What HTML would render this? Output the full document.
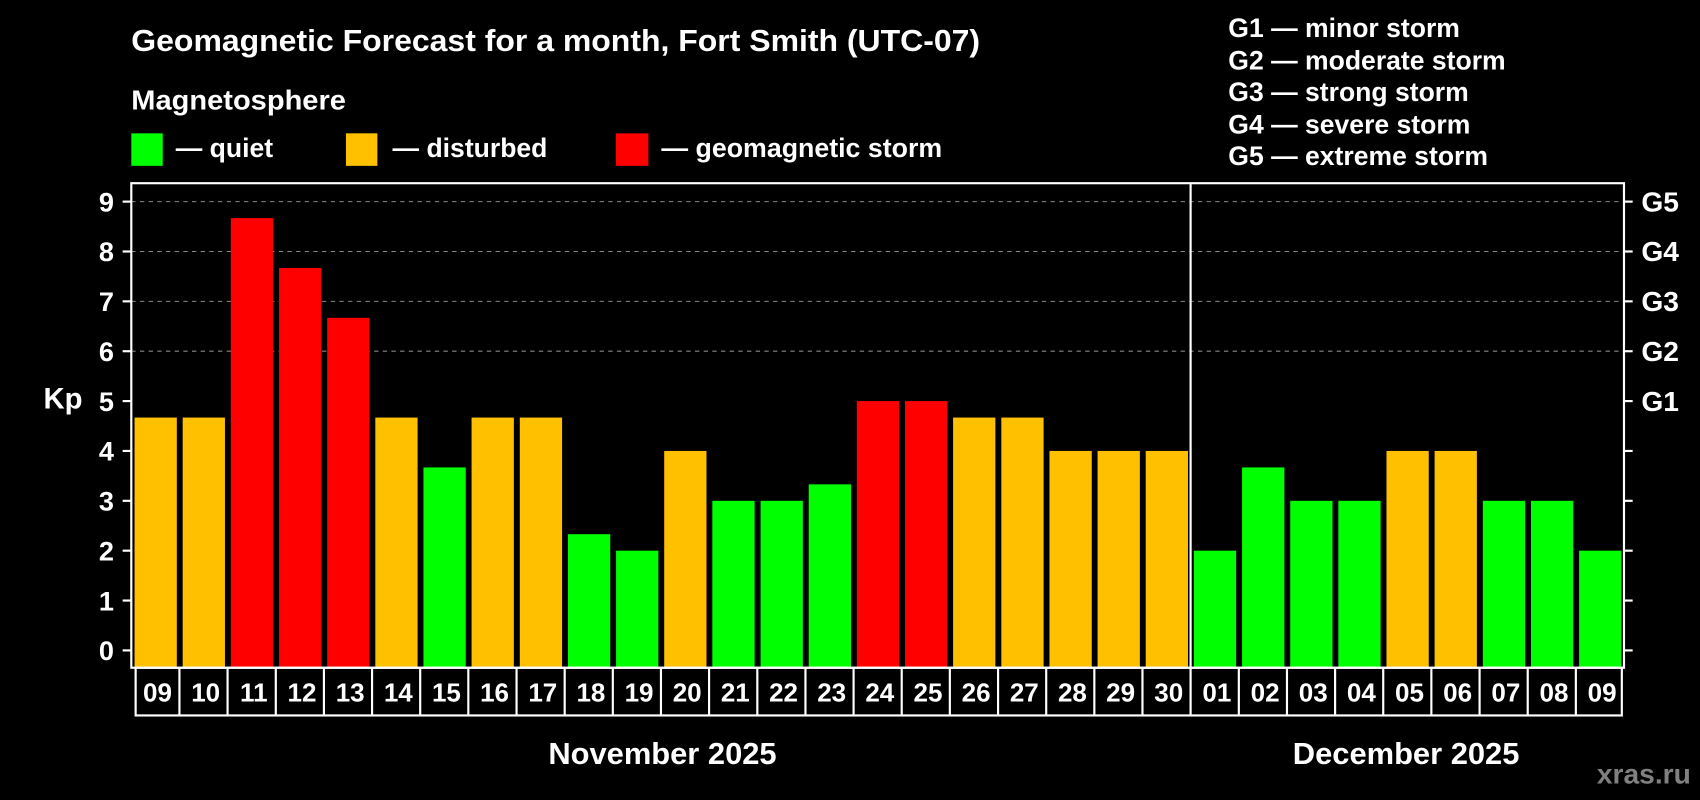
<!DOCTYPE html>
<html><head><meta charset="utf-8"><style>html,body{margin:0;padding:0;background:#000}svg{display:block}text{font-family:"Liberation Sans",Arial,sans-serif;font-weight:bold;fill:#fff}</style></head>
<body>
<svg width="1700" height="800" viewBox="0 0 1568 738" xmlns="http://www.w3.org/2000/svg">
<rect width="1568" height="738" fill="#000"/>
<text x="121" y="47" font-size="28.5" textLength="783" lengthAdjust="spacingAndGlyphs">Geomagnetic Forecast for a month, Fort Smith (UTC-07)</text>
<text x="121" y="101" font-size="26" textLength="198" lengthAdjust="spacingAndGlyphs">Magnetosphere</text>
<rect x="121" y="123" width="29" height="30" fill="#00ff00"/><text x="162" y="145" font-size="24.5">— quiet</text>
<rect x="319" y="123" width="29" height="30" fill="#ffc000"/><text x="362" y="145" font-size="24.5">— disturbed</text>
<rect x="568" y="123" width="30" height="30" fill="#ff0000"/><text x="610" y="145" font-size="24.5" textLength="259" lengthAdjust="spacingAndGlyphs">— geomagnetic storm</text>
<g font-size="24.5"><text x="1133" y="34">G1 — minor storm</text><text x="1133" y="64">G2 — moderate storm</text><text x="1133" y="93">G3 — strong storm</text><text x="1133" y="123">G4 — severe storm</text><text x="1133" y="152">G5 — extreme storm</text></g>
<g stroke="#888" stroke-dasharray="4,4" stroke-width="1"><line x1="121" x2="1498" y1="186" y2="186"/><line x1="121" x2="1498" y1="232" y2="232"/><line x1="121" x2="1498" y1="278" y2="278"/><line x1="121" x2="1498" y1="324" y2="324"/></g>
<g fill="#ffc000"><rect x="124" y="385.2" width="39" height="230.8"/><rect x="168.4" y="385.2" width="39" height="230.8"/><rect x="346.1" y="385.2" width="39" height="230.8"/><rect x="434.9" y="385.2" width="39" height="230.8"/><rect x="479.4" y="385.2" width="39" height="230.8"/><rect x="612.6" y="416" width="39" height="200"/><rect x="879.1" y="385.2" width="39" height="230.8"/><rect x="923.6" y="385.2" width="39" height="230.8"/><rect x="968" y="416" width="39" height="200"/><rect x="1012.4" y="416" width="39" height="200"/><rect x="1056.8" y="416" width="39" height="200"/><rect x="1278.9" y="416" width="39" height="200"/><rect x="1323.3" y="416" width="39" height="200"/></g>
<g fill="#ff0000"><rect x="212.8" y="201.2" width="39" height="414.8"/><rect x="257.3" y="247.2" width="39" height="368.8"/><rect x="301.7" y="293.2" width="39" height="322.8"/><rect x="790.3" y="370" width="39" height="246"/><rect x="834.7" y="370" width="39" height="246"/></g>
<g fill="#00ff00"><rect x="390.5" y="431.2" width="39" height="184.8"/><rect x="523.8" y="492.8" width="39" height="123.2"/><rect x="568.2" y="508" width="39" height="108"/><rect x="657" y="462" width="39" height="154"/><rect x="701.5" y="462" width="39" height="154"/><rect x="745.9" y="446.8" width="39" height="169.2"/><rect x="1101.2" y="508" width="39" height="108"/><rect x="1145.7" y="431.2" width="39" height="184.8"/><rect x="1190.1" y="462" width="39" height="154"/><rect x="1234.5" y="462" width="39" height="154"/><rect x="1367.8" y="462" width="39" height="154"/><rect x="1412.2" y="462" width="39" height="154"/><rect x="1456.6" y="508" width="39" height="108"/></g>
<rect x="121" y="169" width="1377" height="447" fill="none" stroke="#fff" stroke-width="2"/>
<line x1="1098.2" y1="169" x2="1098.2" y2="616" stroke="#fff" stroke-width="2"/>
<g stroke="#fff" stroke-width="2">
<line x1="113" x2="121" y1="186" y2="186"/><line x1="113" x2="121" y1="232" y2="232"/><line x1="113" x2="121" y1="278" y2="278"/><line x1="113" x2="121" y1="324" y2="324"/><line x1="113" x2="121" y1="370" y2="370"/><line x1="113" x2="121" y1="416" y2="416"/><line x1="113" x2="121" y1="462" y2="462"/><line x1="113" x2="121" y1="508" y2="508"/><line x1="113" x2="121" y1="554" y2="554"/><line x1="113" x2="121" y1="600" y2="600"/>
<line x1="1498" x2="1506" y1="186" y2="186"/><line x1="1498" x2="1506" y1="232" y2="232"/><line x1="1498" x2="1506" y1="278" y2="278"/><line x1="1498" x2="1506" y1="324" y2="324"/><line x1="1498" x2="1506" y1="370" y2="370"/><line x1="1498" x2="1506" y1="416" y2="416"/><line x1="1498" x2="1506" y1="462" y2="462"/><line x1="1498" x2="1506" y1="508" y2="508"/><line x1="1498" x2="1506" y1="554" y2="554"/><line x1="1498" x2="1506" y1="600" y2="600"/>
</g>
<g font-size="25" text-anchor="end"><text x="105" y="195">9</text><text x="105" y="241">8</text><text x="105" y="287">7</text><text x="105" y="333">6</text><text x="105" y="379">5</text><text x="105" y="425">4</text><text x="105" y="471">3</text><text x="105" y="517">2</text><text x="105" y="563">1</text><text x="105" y="609">0</text></g>
<text x="40" y="377" font-size="27">Kp</text>
<g font-size="26"><text x="1514" y="195">G5</text><text x="1514" y="241">G4</text><text x="1514" y="287">G3</text><text x="1514" y="333">G2</text><text x="1514" y="379">G1</text></g>
<rect x="125" y="616" width="1371" height="44" fill="none" stroke="#fff" stroke-width="2"/>
<g stroke="#fff" stroke-width="2">
<line x1="165.4" x2="165.4" y1="616" y2="660"/><line x1="209.8" x2="209.8" y1="616" y2="660"/><line x1="254.3" x2="254.3" y1="616" y2="660"/><line x1="298.7" x2="298.7" y1="616" y2="660"/><line x1="343.1" x2="343.1" y1="616" y2="660"/><line x1="387.5" x2="387.5" y1="616" y2="660"/><line x1="431.9" x2="431.9" y1="616" y2="660"/><line x1="476.4" x2="476.4" y1="616" y2="660"/><line x1="520.8" x2="520.8" y1="616" y2="660"/><line x1="565.2" x2="565.2" y1="616" y2="660"/><line x1="609.6" x2="609.6" y1="616" y2="660"/><line x1="654" x2="654" y1="616" y2="660"/><line x1="698.5" x2="698.5" y1="616" y2="660"/><line x1="742.9" x2="742.9" y1="616" y2="660"/><line x1="787.3" x2="787.3" y1="616" y2="660"/><line x1="831.7" x2="831.7" y1="616" y2="660"/><line x1="876.1" x2="876.1" y1="616" y2="660"/><line x1="920.6" x2="920.6" y1="616" y2="660"/><line x1="965" x2="965" y1="616" y2="660"/><line x1="1009.4" x2="1009.4" y1="616" y2="660"/><line x1="1053.8" x2="1053.8" y1="616" y2="660"/><line x1="1098.2" x2="1098.2" y1="616" y2="660"/><line x1="1142.7" x2="1142.7" y1="616" y2="660"/><line x1="1187.1" x2="1187.1" y1="616" y2="660"/><line x1="1231.5" x2="1231.5" y1="616" y2="660"/><line x1="1275.9" x2="1275.9" y1="616" y2="660"/><line x1="1320.3" x2="1320.3" y1="616" y2="660"/><line x1="1364.8" x2="1364.8" y1="616" y2="660"/><line x1="1409.2" x2="1409.2" y1="616" y2="660"/><line x1="1453.6" x2="1453.6" y1="616" y2="660"/>
</g>
<g font-size="24" text-anchor="middle">
<text x="145.2" y="647">09</text><text x="189.6" y="647">10</text><text x="234" y="647">11</text><text x="278.5" y="647">12</text><text x="322.9" y="647">13</text><text x="367.3" y="647">14</text><text x="411.7" y="647">15</text><text x="456.1" y="647">16</text><text x="500.6" y="647">17</text><text x="545" y="647">18</text><text x="589.4" y="647">19</text><text x="633.8" y="647">20</text><text x="678.2" y="647">21</text><text x="722.7" y="647">22</text><text x="767.1" y="647">23</text><text x="811.5" y="647">24</text><text x="855.9" y="647">25</text><text x="900.3" y="647">26</text><text x="944.8" y="647">27</text><text x="989.2" y="647">28</text><text x="1033.6" y="647">29</text><text x="1078" y="647">30</text><text x="1122.4" y="647">01</text><text x="1166.9" y="647">02</text><text x="1211.3" y="647">03</text><text x="1255.7" y="647">04</text><text x="1300.1" y="647">05</text><text x="1344.5" y="647">06</text><text x="1389" y="647">07</text><text x="1433.4" y="647">08</text><text x="1477.8" y="647">09</text>
</g>
<text x="611" y="705" font-size="28.5" text-anchor="middle">November 2025</text>
<text x="1297" y="705" font-size="28.5" text-anchor="middle">December 2025</text>
<text x="1473" y="723" font-size="26" style="fill:#808080">xras.ru</text>
</svg>
</body></html>
